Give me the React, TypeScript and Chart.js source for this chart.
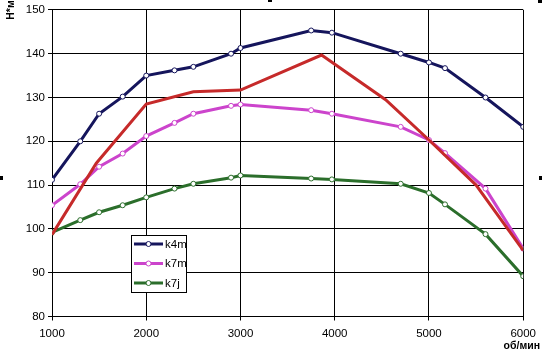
import React, { useEffect, useRef } from "react";
import { Chart, registerables } from "chart.js";

Chart.register(...registerables);

// ---- Data ----
const xTicks = [1000, 2000, 3000, 4000, 5000, 6000];
const yTicks = [80, 90, 100, 110, 120, 130, 140, 150];

const k4mRpm = [1000, 1300, 1500, 1750, 2000, 2300, 2500, 2900, 3000, 3750, 3970, 4700, 5000, 5170, 5600, 6000];
const k4mNm = [111.2, 120, 126.3, 130.2, 135, 136.2, 137, 140, 141.3, 145.3, 144.8, 140, 138, 136.7, 130, 123.3];

const k7mRpm = [1000, 1300, 1500, 1750, 2000, 2300, 2500, 2900, 3000, 3750, 3970, 4700, 5000, 5170, 5600, 6000];
const k7mNm = [105.4, 110.2, 114.2, 117.2, 121.2, 124.2, 126.3, 128.1, 128.4, 127.1, 126.3, 123.3, 120.3, 117.3, 109.2, 95.5];

const k7jRpm = [1000, 1300, 1500, 1750, 2000, 2300, 2500, 2900, 3000, 3750, 3970, 4700, 5000, 5170, 5600, 6000];
const k7jNm = [99.2, 102, 103.8, 105.4, 107.2, 109.2, 110.3, 111.7, 112.2, 111.5, 111.3, 110.3, 108.2, 105.6, 98.8, 89.2];

const redRpm = [1000, 1470, 2000, 2500, 3000, 3860, 4540, 5000, 5500, 6000];
const redNm = [98.7, 115, 128.5, 131.3, 131.7, 139.7, 129.5, 120.3, 110, 95.1];

const seriesNames = ["k4m", "k7m", "k7j"];
const yTitle = "Н*м";
const xTitle = "об/мин";

const NAVY = "#15155c";
const MAGENTA = "#cc44cc";
const GREEN = "#2b6e2b";
const RED = "#c62a2a";

const FONT = "'Liberation Sans', Arial, sans-serif";

function pts(xs: number[], ys: number[]) {
  return xs.map((x, i) => ({ x, y: ys[i] }));
}

const overlayPlugin = {
  id: "overlay",
  afterDraw(chart: any) {
    const ctx = chart.ctx as CanvasRenderingContext2D;
    ctx.save();

    // Legend box
    const lx = 131, ly = 235, lw = 55, lh = 57;
    ctx.fillStyle = "#ffffff";
    ctx.fillRect(lx, ly, lw, lh);
    ctx.strokeStyle = "#000000";
    ctx.lineWidth = 1;
    ctx.strokeRect(lx + 0.5, ly + 0.5, lw, lh);

    const rows = [244, 263.5, 283];
    seriesNames.forEach((name, i) => {
      const ds = chart.data.datasets[i];
      const y = rows[i];
      ctx.strokeStyle = ds.borderColor;
      ctx.lineWidth = 3;
      ctx.beginPath();
      ctx.moveTo(134, y);
      ctx.lineTo(163, y);
      ctx.stroke();
      ctx.fillStyle = "#ffffff";
      ctx.lineWidth = 1;
      ctx.beginPath();
      ctx.arc(148.5, y, 2.5, 0, Math.PI * 2);
      ctx.fill();
      ctx.stroke();
      ctx.fillStyle = "#000000";
      ctx.font = `11.5px ${FONT}`;
      ctx.textAlign = "left";
      ctx.textBaseline = "middle";
      ctx.fillText(name, 165, y + 0.5);
    });

    // Axis titles
    ctx.fillStyle = "#000000";
    ctx.font = `bold 10.5px ${FONT}`;
    ctx.textAlign = "right";
    ctx.textBaseline = "middle";
    ctx.fillText(xTitle, 540, 346);

    ctx.save();
    ctx.translate(11, 10);
    ctx.rotate(-Math.PI / 2);
    ctx.textAlign = "center";
    ctx.fillText(yTitle, 0, 0);
    ctx.restore();

    // Selection handles
    ctx.fillStyle = "#000000";
    ctx.fillRect(0, 176, 3, 4);
    ctx.fillRect(539, 176, 3, 4);
    ctx.fillRect(268, 0, 4, 2);
    ctx.fillRect(538, 0, 4, 3);

    ctx.restore();
  },
};

export default function App() {
  const ref = useRef<HTMLCanvasElement | null>(null);

  useEffect(() => {
    document.body.style.margin = "0";
    if (!ref.current) return;
    Chart.defaults.font.family = FONT;
    const mk = (label: string, xs: number[], ys: number[], color: string, markers: boolean, order: number) => ({
      label,
      data: pts(xs, ys),
      borderColor: color,
      backgroundColor: color,
      borderWidth: 3,
      pointRadius: markers ? 2.5 : 0,
      pointBorderWidth: 1,
      pointBorderColor: color,
      pointBackgroundColor: "#ffffff",
      tension: 0,
      order,
    });
    const chart = new Chart(ref.current, {
      type: "line",
      data: {
        datasets: [
          mk("k4m", k4mRpm, k4mNm, NAVY, true, 3),
          mk("k7m", k7mRpm, k7mNm, MAGENTA, true, 2),
          mk("k7j", k7jRpm, k7jNm, GREEN, true, 1),
          mk("", redRpm, redNm, RED, false, 0),
        ],
      },
      options: {
        animation: false,
        responsive: false,
        maintainAspectRatio: false,
        devicePixelRatio: 1,
        layout: { padding: { top: 9, right: 15, left: 0, bottom: 0 } },
        plugins: { legend: { display: false }, tooltip: { enabled: false }, title: { display: false } },
        scales: {
          x: {
            type: "linear",
            min: 1000,
            max: 6000,
            afterBuildTicks: (s: any) => {
              s.ticks = xTicks.map((v) => ({ value: v }));
            },
            afterFit: (s: any) => {
              s.height = 36.5;
            },
            ticks: { color: "#000", font: { size: 11.5 }, padding: 6, maxRotation: 0, callback: (v: any) => String(v) },
            grid: { color: "#000", lineWidth: 1, tickLength: 4, drawTicks: true },
            border: { color: "#000", width: 1 },
          },
          y: {
            type: "linear",
            min: 80,
            max: 150,
            afterBuildTicks: (s: any) => {
              s.ticks = yTicks.map((v) => ({ value: v }));
            },
            afterFit: (s: any) => {
              s.width = 52;
            },
            ticks: { color: "#000", font: { size: 11.5 }, padding: 3, callback: (v: any) => String(v) },
            grid: { color: "#000", lineWidth: 1, tickLength: 4, drawTicks: true },
            border: { color: "#000", width: 1 },
          },
        },
      },
      plugins: [overlayPlugin],
    } as any);
    return () => chart.destroy();
  }, []);

  return (
    <div style={{ position: "fixed", left: 0, top: 0, width: 542, height: 353, background: "#fff" }}>
      <canvas ref={ref} width={542} height={353} style={{ width: 542, height: 353 }} />
    </div>
  );
}
